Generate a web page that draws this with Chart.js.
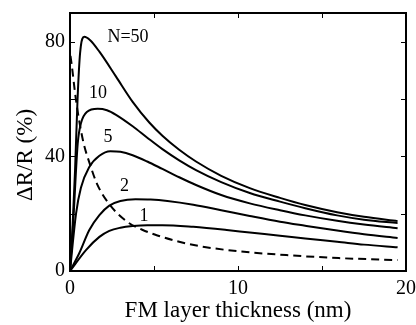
<!DOCTYPE html>
<html>
<head>
<meta charset="utf-8">
<script src="https://cdn.jsdelivr.net/npm/chart.js@4/dist/chart.umd.min.js"></script>
<style>
    html, body { margin: 0; padding: 0; background: #fff; }
    #wrap { width: 416px; height: 325px; }
</style>
</head>
<body>
<div id="wrap"><canvas id="mrChart"></canvas></div>
<script>
// magnetoresistance vs FM layer thickness, one curve per number of bilayers N
const n50 = [[0,0],[0.15,15],[0.3,35],[0.45,60],[0.6,76],[0.85,81.7],[1.2,80.5],[1.75,76.5],[2.74,67.8],[3.73,59],[4.72,51.8],[5.5,47.2],[6.5,42.3],[7.5,38.2],[9,33.2],[10.7,28.9],[12.5,25.5],[14,23],[15.9,20.5],[17.5,18.9],[19.5,17.4]];
const n10 = [[0,0],[0.2,18],[0.46,44.5],[0.65,51.5],[1.0,55.5],[1.65,56.6],[2.2,56.1],[2.74,54.5],[3.73,50.5],[4.6,46.5],[5.5,42.5],[6.5,38.6],[7.5,35.2],[9,31],[10.7,27.2],[12.5,24.2],[14,21.9],[15.9,19.4],[17.5,17.9],[19.5,16.7]];
const n5 = [[0,0],[0.36,20],[0.65,29],[1.15,36.3],[1.75,40.2],[2.4,41.8],[3.0,41.6],[3.73,40.4],[4.6,38.2],[5.5,35.6],[6.5,32.7],[7.5,30.0],[9,26.5],[10.7,23.6],[12.5,21.2],[14,19.4],[15.9,17.5],[17.5,16.2],[19.5,14.9]];
const n2 = [[0,0],[0.55,6.2],[1.15,14.3],[1.75,19.5],[2.34,22.8],[3.0,24.4],[3.9,25],[4.8,24.9],[5.8,24.4],[7.34,23.1],[9,21.2],[10.7,19.2],[12.5,17.2],[14,15.8],[15.9,14.1],[17.5,12.8],[19.5,11.5]];
const n1 = [[0,0],[0.95,7.3],[1.75,11.9],[2.34,14],[3.0,15.1],[3.73,15.7],[4.6,16],[5.5,16],[7.34,15.4],[9.33,14.3],[10.7,13.4],[12.5,12.3],[14,11.3],[15.9,10.2],[17.5,9.2],[19.5,8.3]];
const dashed = [[0.03,75],[0.1,72],[0.36,59.5],[0.77,45.6],[1.2,37],[1.6,30.5],[2.3,23.6],[3.4,17.2],[4.3,14.4],[5.2,12.4],[6.5,10.2],[8.0,8.4],[10,6.9],[13,5.5],[16,4.5],[19.5,3.8]];

const curveLabels = [
    { text: 'N=50', x: 3.45, y: 81.4 },
    { text: '10', x: 1.67, y: 61.9 },
    { text: '5', x: 2.26, y: 46.6 },
    { text: '2', x: 3.24, y: 29.6 },
    { text: '1', x: 4.4, y: 19.1 }
];

const xTicks = [0, 5, 10, 15, 20];
const yTicks = [0, 20, 40, 60, 80];
const yLabelled = [0, 40, 80];
const yTitle = 'ΔR/R (%)';

const serif = "'Liberation Serif', 'DejaVu Serif', serif";

function toPoints(arr) {
    return arr.map(p => ({ x: p[0], y: p[1] }));
}

function solid(data) {
    return {
        data: toPoints(data),
        borderColor: '#000',
        borderWidth: 2,
        pointRadius: 0,
        cubicInterpolationMode: 'monotone',
        fill: false
    };
}

// box round the plot, short inward ticks on every side, curve labels, y title
const framePlugin = {
    id: 'frame',
    afterDatasetsDraw(chart) {
        const { ctx, chartArea: a, scales } = chart;
        ctx.save();
        ctx.strokeStyle = '#000';
        ctx.lineWidth = 1;
        ctx.beginPath();
        xTicks.forEach(v => {
            const px = Math.round(scales.x.getPixelForValue(v)) + 0.5;
            ctx.moveTo(px, a.bottom); ctx.lineTo(px, a.bottom - 5);
            ctx.moveTo(px, a.top); ctx.lineTo(px, a.top + 5);
        });
        yTicks.forEach(v => {
            const py = Math.round(scales.y.getPixelForValue(v)) + 0.5;
            ctx.moveTo(a.left, py); ctx.lineTo(a.left + 5, py);
            ctx.moveTo(a.right, py); ctx.lineTo(a.right - 5, py);
        });
        ctx.stroke();
        ctx.lineWidth = 2;
        ctx.strokeRect(a.left, a.top, a.right - a.left, a.bottom - a.top);

        ctx.fillStyle = '#000';
        ctx.font = '18px ' + serif;
        ctx.textAlign = 'center';
        ctx.textBaseline = 'middle';
        curveLabels.forEach(l => {
            ctx.fillText(l.text, scales.x.getPixelForValue(l.x), scales.y.getPixelForValue(l.y));
        });

        ctx.font = '23px ' + serif;
        ctx.translate(26, 155);
        ctx.rotate(-Math.PI / 2);
        ctx.fillText(yTitle, 0, 0);
        ctx.restore();
    }
};

const ctx = document.getElementById('mrChart');
new Chart(ctx, {
    type: 'line',
    data: {
        datasets: [
            solid(n50), solid(n10), solid(n5), solid(n2), solid(n1),
            Object.assign(solid(dashed), { borderDash: [8, 5] })
        ]
    },
    options: {
        responsive: true,
        maintainAspectRatio: false,
        animation: false,
        layout: { padding: { top: 13, right: 10, left: 0, bottom: 0 } },
        plugins: {
            legend: { display: false },
            tooltip: { enabled: false }
        },
        scales: {
            x: {
                type: 'linear',
                min: 0,
                max: 20,
                grid: { display: false, drawTicks: false },
                border: { display: false },
                ticks: {
                    stepSize: 10,
                    color: '#000',
                    padding: 6,
                    maxRotation: 0,
                    font: { family: serif, size: 20 }
                },
                title: {
                    display: true,
                    text: 'FM layer thickness (nm)',
                    color: '#000',
                    padding: 0,
                    font: { family: serif, size: 23 }
                },
                afterFit(scale) {
                    scale.height = 54;
                    scale.paddingLeft = 0;
                    scale.paddingRight = 0;
                }
            },
            y: {
                min: 0,
                max: 90,
                grid: { display: false, drawTicks: false },
                border: { display: false },
                afterBuildTicks(scale) {
                    scale.ticks = yLabelled.map(v => ({ value: v }));
                },
                ticks: {
                    color: '#000',
                    padding: 5,
                    font: { family: serif, size: 20 }
                },
                afterFit(scale) {
                    scale.width = 70;
                    scale.paddingTop = 0;
                    scale.paddingBottom = 0;
                }
            }
        }
    },
    plugins: [framePlugin]
});
</script>
</body>
</html>
